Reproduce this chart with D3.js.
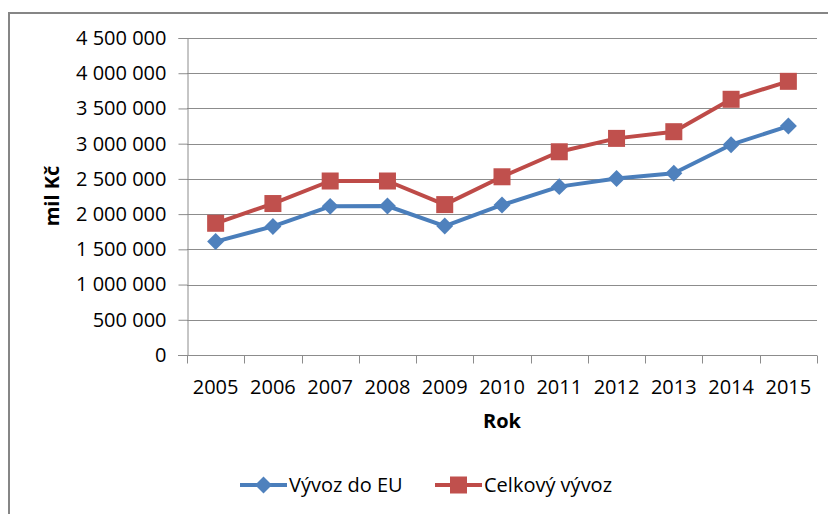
<!DOCTYPE html>
<html>
<head>
<meta charset="utf-8">
<script src="https://cdn.jsdelivr.net/npm/d3@7"></script>
<style>
  body { margin: 0; background: #fff; }
  text { font-family: "Open Sans", "Liberation Sans", sans-serif; fill: #000; }
</style>
</head>
<body>
<div id="chart"></div>
<script>
// values (mil Kč)
const years = ["2005", "2006", "2007", "2008", "2009", "2010", "2011", "2012", "2013", "2014", "2015"];
const vyvozEU = [1610000, 1825000, 2110000, 2115000, 1830000, 2130000, 2390000, 2505000, 2580000, 2985000, 3250000];
const vyvozCelkem = [1870000, 2150000, 2470000, 2470000, 2135000, 2530000, 2885000, 3075000, 3170000, 3630000, 3885000];
const yTicks = [0, 500000, 1000000, 1500000, 2000000, 2500000, 3000000, 3500000, 4000000, 4500000];
const seriesNames = ["Vývoz do EU", "Celkový vývoz"];

const W = 828, H = 514;
const plot = {left: 187, right: 817, top: 38, bottom: 355};

const svg = d3.select("#chart").append("svg")
  .attr("width", W)
  .attr("height", H);

// outer chart frame (right and bottom edges are cut off in the picture)
svg.append("rect")
  .attr("x", 9).attr("y", 13)
  .attr("width", W + 20).attr("height", H + 20)
  .attr("fill", "#fff")
  .attr("stroke", "#868686")
  .attr("stroke-width", 2);

const cz = d3.formatLocale({decimal: ",", thousands: " ", grouping: [3], currency: ["", " Kč"]});
const fmt = cz.format(",d");

const x = d3.scaleBand()
  .domain(years)
  .range([plot.left, plot.right]);

const y = d3.scaleLinear()
  .domain([0, 4500000])
  .range([plot.bottom, plot.top]);

// gridlines
svg.append("g")
  .selectAll("line")
  .data(yTicks.filter(d => d > 0))
  .join("line")
  .attr("x1", plot.left).attr("x2", plot.right)
  .attr("y1", d => Math.round(y(d)) + 0.5)
  .attr("y2", d => Math.round(y(d)) + 0.5)
  .attr("stroke", "#8c8c8c")
  .attr("stroke-width", 1);

// y axis
const yAxis = svg.append("g")
  .attr("transform", `translate(${plot.left + 0.5},0)`)
  .call(d3.axisLeft(y).tickValues(yTicks).tickFormat(fmt).tickSize(9).tickPadding(12));
yAxis.select(".domain").attr("stroke", "#8c8c8c");
yAxis.selectAll(".tick line").attr("stroke", "#8c8c8c");
yAxis.selectAll(".tick text")
  .style("font-family", '"Open Sans", sans-serif')
  .style("font-size", "20px")
  .attr("fill", "#000");

// x axis with ticks at category boundaries
const xAxis = svg.append("g")
  .attr("transform", `translate(0,${Math.round(plot.bottom) + 0.5})`);
xAxis.append("line")
  .attr("x1", plot.left - 9).attr("x2", plot.right)
  .attr("stroke", "#8c8c8c");
xAxis.selectAll(".bound")
  .data(years.concat(["end"]))
  .join("line")
  .attr("class", "bound")
  .attr("x1", (d, i) => Math.round(i < years.length ? x(d) : plot.right) + 0.5)
  .attr("x2", (d, i) => Math.round(i < years.length ? x(d) : plot.right) + 0.5)
  .attr("y1", 0).attr("y2", 8)
  .attr("stroke", "#8c8c8c");
xAxis.selectAll(".lbl")
  .data(years)
  .join("text")
  .attr("class", "lbl")
  .attr("x", d => x(d) + x.bandwidth() / 2)
  .attr("y", 38)
  .attr("text-anchor", "middle")
  .style("font-size", "20px")
  .text(d => d);

// axis titles
svg.append("text")
  .attr("x", (plot.left + plot.right) / 2)
  .attr("y", 428)
  .attr("text-anchor", "middle")
  .style("font-size", "20px")
  .style("font-weight", "bold")
  .text("Rok");

svg.append("text")
  .attr("transform", "translate(59,196) rotate(-90)")
  .attr("text-anchor", "middle")
  .style("font-size", "20px")
  .style("font-weight", "bold")
  .text("mil Kč");

// series
const series = [
  {name: seriesNames[0], values: vyvozEU, line: "#4a7ebb", fill: "#4f81bd", marker: "diamond"},
  {name: seriesNames[1], values: vyvozCelkem, line: "#be4b48", fill: "#c0504d", marker: "square"}
];

const line = d3.line()
  .x((d, i) => x(years[i]) + x.bandwidth() / 2)
  .y(d => y(d));

const diamond = d3.symbol().type(d3.symbolDiamond2 || d3.symbolSquare2).size(150);

function drawMarker(g, s, cx, cy) {
  if (s.marker === "square") {
    g.append("rect")
      .attr("x", cx - 8.5).attr("y", cy - 8.5)
      .attr("width", 17).attr("height", 17)
      .attr("fill", s.fill);
  } else {
    g.append("rect")
      .attr("x", -6).attr("y", -6)
      .attr("width", 12).attr("height", 12)
      .attr("transform", `translate(${cx},${cy}) rotate(45)`)
      .attr("fill", s.fill);
  }
}

series.forEach(s => {
  const g = svg.append("g");
  g.append("path")
    .datum(s.values)
    .attr("d", line)
    .attr("fill", "none")
    .attr("stroke", s.line)
    .attr("stroke-width", 4)
    .attr("stroke-linejoin", "round");
  s.values.forEach((v, i) => {
    drawMarker(g, s, x(years[i]) + x.bandwidth() / 2, y(v));
  });
});

// legend
const legendPos = [240, 435];
series.forEach((s, i) => {
  const g = svg.append("g").attr("transform", `translate(${legendPos[i]},485)`);
  g.append("line")
    .attr("x1", 0).attr("x2", 47)
    .attr("stroke", s.line)
    .attr("stroke-width", 4);
  drawMarker(g, s, 23.5, 0);
  g.append("text")
    .attr("x", 49)
    .attr("y", 0)
    .attr("dy", "0.35em")
    .style("font-size", "20px")
    .text(s.name);
});
</script>
</body>
</html>
